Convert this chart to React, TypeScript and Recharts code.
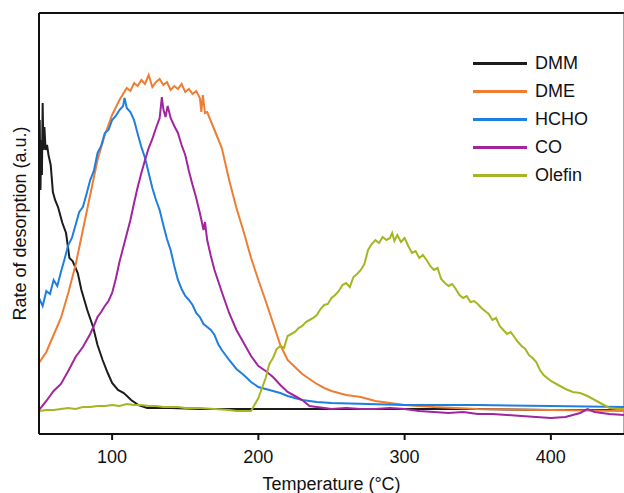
import React from 'react';
import { LineChart, Line, XAxis, YAxis, ReferenceLine, Legend } from 'recharts';

// Temperature (°C) and desorption rate (a.u.) per species
const DMM_T = [50, 50.5, 51, 51.5, 52, 52.5, 53, 53.7, 54.5, 55.5, 56.5, 58, 59.5, 61, 63, 66, 68.5, 70.8, 73, 76.5, 79, 83, 87, 90, 93.5, 97, 100, 104, 108, 113, 118, 124, 140, 160, 200, 250, 300, 350, 400, 450];
const DMM_V = [237, 314, 244, 294, 259, 331, 284, 307, 284, 289, 279, 269, 242, 234, 227, 211, 201, 176, 173, 161, 144, 124, 107, 89, 74, 61, 51, 44, 41, 34, 29, 26, 26, 25, 25, 25, 25, 25, 24, 24];

const DME_T = [50, 55, 60, 65, 70, 75, 80, 85, 90, 95, 100, 105, 110, 112.5, 115, 117.5, 120, 122.5, 125, 127.5, 130, 132.5, 135, 137.5, 140, 142.5, 145, 147.5, 150, 152.5, 155, 157.5, 160, 161, 162, 163.5, 165, 170, 175, 180, 185, 190, 195, 200, 205, 210, 215, 220, 225, 230, 235, 240, 245, 250, 260, 270, 280, 290, 300, 320, 350, 400, 450];
const DME_V = [71, 82, 99, 116, 141, 169, 204, 239, 274, 299, 319, 334, 346, 343, 351, 348, 354, 350, 359, 347, 352, 355, 349, 352, 344, 348, 345, 350, 342, 345, 340, 343, 336, 322, 339, 321, 322, 304, 286, 254, 226, 202, 176, 154, 133, 111, 89, 74, 67, 60, 55, 50, 46, 43, 39, 37, 33, 31, 29, 27, 25, 24, 23];

const HCHO_T = [50, 52.5, 55, 57.5, 60, 62.5, 65, 67.5, 70, 72.5, 75, 77.5, 80, 82.5, 85, 87.5, 90, 92.5, 95, 97.5, 100, 102.5, 105, 107.5, 108.5, 110, 112.5, 115, 117.5, 120, 122.5, 125, 127.5, 130, 132.5, 135, 137.5, 140, 142.5, 145, 147.5, 150, 152.5, 155, 157.5, 160, 162.5, 165, 167.5, 170, 172.5, 175, 177.5, 180, 185, 190, 195, 200, 205, 210, 215, 220, 225, 230, 240, 250, 275, 300, 350, 400, 450];
const HCHO_V = [136, 128, 143, 140, 154, 148, 162, 175, 189, 196, 209, 222, 227, 240, 254, 263, 281, 288, 301, 304, 314, 318, 324, 328, 336, 326, 322, 314, 300, 287, 276, 261, 246, 234, 224, 209, 195, 184, 168, 154, 145, 138, 134, 129, 121, 117, 110, 107, 104, 99, 90, 84, 79, 74, 65, 59, 52, 47, 45, 43, 41, 38, 36, 34, 32, 31, 30, 29, 29, 28, 27];

const CO_T = [50, 55, 60, 65, 70, 75, 80, 85, 87.5, 90, 92.5, 95, 97.5, 100, 102.5, 105, 107.5, 110, 112.5, 115, 117.5, 120, 122.5, 125, 127.5, 130, 132.5, 134, 135, 136.5, 138, 140, 142.5, 145, 147.5, 150, 152.5, 155, 157.5, 160, 162.5, 163.5, 165, 167.5, 170, 175, 180, 185, 190, 195, 200, 205, 210, 215, 220, 225, 230, 235, 240, 250, 260, 270, 280, 290, 300, 310, 320, 330, 340, 350, 360, 370, 380, 390, 400, 410, 420, 425, 430, 440, 450];
const CO_V = [24, 33, 43, 50, 63, 77, 87, 100, 108, 117, 122, 128, 133, 141, 155, 172, 186, 200, 214, 231, 247, 261, 274, 286, 295, 306, 316, 337, 325, 317, 328, 316, 308, 301, 289, 279, 263, 249, 236, 221, 204, 212, 194, 178, 164, 142, 121, 104, 91, 78, 68, 63, 57, 49, 42, 38, 34, 28, 27, 25, 26, 25, 25, 26, 25, 23, 22, 21, 22, 20, 20, 19, 18, 17, 16, 17, 21, 25, 22, 20, 19];

const OLEFIN_T = [50, 55, 60, 65, 70, 75, 80, 85, 90, 95, 100, 105, 110, 115, 120, 125, 130, 135, 140, 145, 150, 160, 170, 180, 185, 190, 195, 200, 205, 207.5, 210, 212.5, 215, 217.5, 220, 222.5, 225, 227.5, 230, 232.5, 235, 237.5, 240, 242.5, 245, 247.5, 250, 252.5, 255, 257.5, 260, 262.5, 265, 267.5, 270, 272.5, 275, 277.5, 280, 282.5, 285, 287.5, 290, 291.5, 293, 295, 297.5, 300, 302.5, 305, 307.5, 310, 312.5, 315, 317.5, 320, 322.5, 325, 327.5, 330, 332.5, 335, 337.5, 340, 342.5, 345, 347.5, 350, 352.5, 355, 357.5, 360, 362.5, 365, 367.5, 370, 372.5, 375, 377.5, 380, 382.5, 385, 387.5, 390, 392.5, 395, 397.5, 400, 405, 410, 415, 420, 425, 430, 435, 440, 445, 450];
const OLEFIN_V = [23, 24, 24, 25, 26, 25, 27, 27, 28, 28, 29, 28, 30, 29, 29, 28, 28, 27, 27, 27, 26, 26, 25, 24, 23, 23, 23, 36, 56, 70, 76, 85, 88, 86, 98, 100, 102, 106, 108, 112, 114, 116, 119, 125, 129, 130, 136, 139, 143, 149, 151, 147, 157, 160, 164, 170, 184, 190, 194, 191, 197, 194, 196, 201, 193, 199, 192, 196, 188, 181, 183, 176, 179, 174, 168, 164, 166, 155, 151, 148, 150, 145, 139, 136, 138, 132, 133, 130, 126, 123, 120, 114, 116, 108, 104, 100, 102, 97, 92, 88, 85, 79, 76, 72, 64, 59, 56, 53, 49, 45, 42, 41, 38, 34, 30, 26, 25, 25];

const X_TICKS = [100, 200, 300, 400];
const X_DOMAIN = [50, 450];
const Y_DOMAIN = [0, 421];

const toRows = (ts: number[], vs: number[]) => ts.map((t, i) => ({ t, v: vs[i] }));

const SERIES = [
  { name: 'DMM', color: '#1c1c1c', data: toRows(DMM_T, DMM_V) },
  { name: 'DME', color: '#ee7d33', data: toRows(DME_T, DME_V) },
  { name: 'HCHO', color: '#1f7fe0', data: toRows(HCHO_T, HCHO_V) },
  { name: 'CO', color: '#a0259e', data: toRows(CO_T, CO_V) },
  { name: 'Olefin', color: '#a6b622', data: toRows(OLEFIN_T, OLEFIN_V) },
];

const FONT = '"Liberation Sans", Arial, Helvetica, sans-serif';

const LegendBox = () => (
  <div style={{ fontFamily: FONT, fontSize: 18, color: '#111' }}>
    {SERIES.map((s) => (
      <div key={s.name} style={{ display: 'flex', alignItems: 'center', height: 28 }}>
        <div style={{ width: 54, height: 3, background: s.color, marginRight: 8 }} />
        <span>{s.name}</span>
      </div>
    ))}
  </div>
);

export default function App() {
  return (
    <div style={{ position: 'absolute', left: 0, top: 0, width: 624, height: 493, background: '#fff' }}>
      <LineChart width={624} height={493} margin={{ top: 13, right: 0, bottom: 0, left: 0 }}>
        <XAxis
          type="number"
          dataKey="t"
          domain={X_DOMAIN}
          ticks={X_TICKS}
          allowDataOverflow
          height={59}
          stroke="#111"
          strokeWidth={2}
          tickSize={6}
          tickMargin={10}
          tick={{ fill: '#111', fontSize: 18, fontFamily: FONT }}
          label={{ value: 'Temperature (°C)', position: 'insideBottom', offset: 3, fill: '#111', fontSize: 18, fontFamily: FONT }}
        />
        <YAxis
          type="number"
          dataKey="v"
          domain={Y_DOMAIN}
          allowDataOverflow
          width={39}
          stroke="#111"
          strokeWidth={2}
          tick={false}
          tickLine={false}
          label={{ value: 'Rate of desorption (a.u.)', angle: -90, position: 'center', fill: '#111', fontSize: 18, fontFamily: FONT }}
        />
        <ReferenceLine y={421} stroke="#111" strokeWidth={2} />
        <ReferenceLine x={450} stroke="#555" strokeWidth={1} />
        {SERIES.map((s) => (
          <Line
            key={s.name}
            data={s.data}
            dataKey="v"
            name={s.name}
            type="linear"
            stroke={s.color}
            strokeWidth={2}
            dot={false}
            activeDot={false}
            isAnimationActive={false}
          />
        ))}
        <Legend
          layout="vertical"
          verticalAlign="middle"
          align="center"
          content={() => <LegendBox />}
          wrapperStyle={{ position: 'absolute', left: 473, top: 49, width: 145, height: 140 }}
        />
      </LineChart>
    </div>
  );
}
